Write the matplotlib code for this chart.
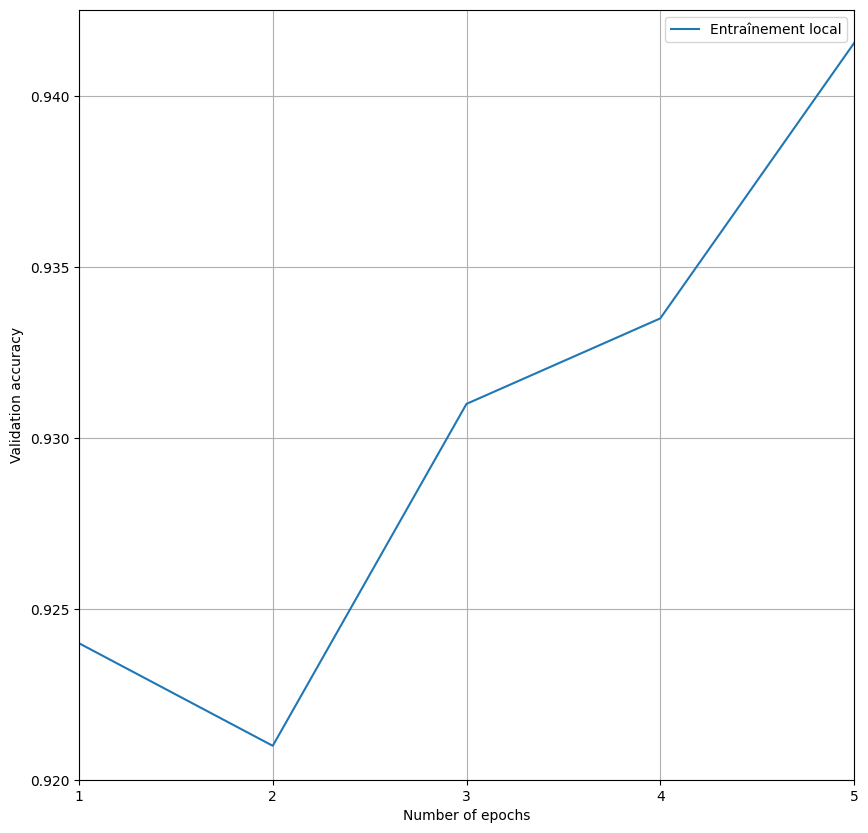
import matplotlib
matplotlib.use("Agg")
import matplotlib.pyplot as plt

# Validation accuracy per epoch
epochs = [1, 2, 3, 4, 5]
accuracy = [0.924, 0.921, 0.931, 0.9335, 0.94155]
label = "Entraînement local"


def plot_accuracy():
    fig = plt.figure(figsize=(8.68, 8.33), dpi=100)
    ax = fig.add_axes([79 / 868, 53 / 833, 775 / 868, 770 / 833])

    ax.plot(epochs, accuracy, label=label)
    ax.set_xticks(epochs)
    ax.set_xlim(1, 5)
    ax.set_ylim(0.92, 0.94252)
    ax.set_xlabel("Number of epochs")
    ax.set_ylabel("Validation accuracy")
    ax.grid(True)
    ax.legend(loc="upper right")

    fig.savefig("out.png", dpi=100)


if __name__ == "__main__":
    plot_accuracy()
